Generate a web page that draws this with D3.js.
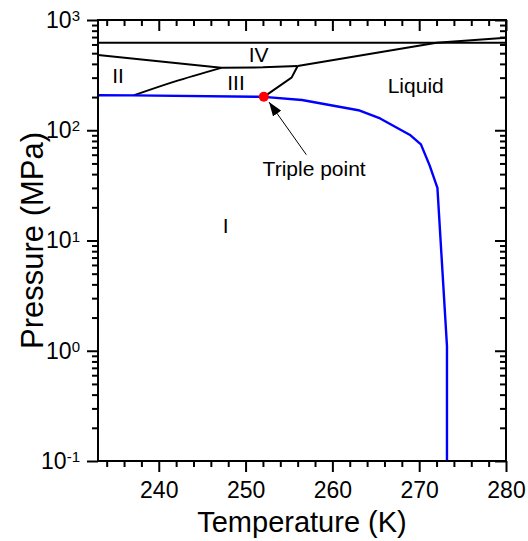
<!DOCTYPE html>
<html>
<head>
<meta charset="utf-8">
<script src="https://cdn.jsdelivr.net/npm/d3@7"></script>
<style>
  body { margin: 0; background: #fff; }
  svg { font-family: "Liberation Sans", Arial, sans-serif; }
</style>
</head>
<body>
<div id="chart"></div>
<script>
// Phase diagram of water (low temperature region), log pressure axis

var tempTicks = [240, 250, 260, 270, 280];
var pressTicks = [0.1, 1, 10, 100, 1000];
var pressExp = ["-1", "0", "1", "2", "3"];

// ice Ih melting line (blue)
var meltIhT = [233, 237.1, 252.1, 256.5, 263, 265.5, 269, 270.2, 271.2, 272.1, 273.2, 273.2];
var meltIhP = [208, 207, 201, 188, 152, 128, 90, 74.5, 48, 30, 1.1, 0.1];

// other phase boundaries (black)
var flatT = [233, 280];
var flatP = [622, 622];
var liqT = [256, 272, 280];
var liqP = [382, 622, 690];
var upperT = [233, 247.2, 252, 256];
var upperP = [481, 368, 372, 382];
var twoThreeT = [237.1, 241.8, 247.2];
var twoThreeP = [207, 276, 368];
var threeLiqT = [252.1, 255.3, 256];
var threeLiqP = [201, 300, 382];

var triplePoint = [252.1, 201];
var arrowFrom = [257, 60];
var arrowTo = [252.7, 180];

var regionNames = ["IV", "II", "III", "Liquid", "I", "Triple point"];
var regionT = [251.5, 235.3, 248.9, 269.6, 247.7, 257.9];
var regionP = [416, 268, 232, 218, 11.7, 38.4];

var margin = {top: 20, right: 22, bottom: 80, left: 98},
    width = 528 - margin.left - margin.right,
    height = 541 - margin.top - margin.bottom;

function pairs(ts, ps) {
  return ts.map(function(t, i) { return [t, ps[i]]; });
}

var svg = d3.select("#chart").append("svg")
    .attr("width", 528)
    .attr("height", 541);

var g = svg.append("g")
    .attr("transform", "translate(" + margin.left + "," + margin.top + ")");

var x = d3.scaleLinear().domain([233, 280]).range([0, width]);
var y = d3.scaleLog().domain([0.1, 1000]).range([height, 0]);

var line = d3.line()
    .x(function(d) { return x(d[0]); })
    .y(function(d) { return y(d[1]); });

var xMinor = d3.range(234, 281, 2).filter(function(v) { return v % 10 !== 0; });
var yMinor = [];
[0.1, 1, 10, 100].forEach(function(dec) {
  for (var k = 2; k <= 9; k++) yMinor.push(dec * k);
});

g.append("defs").append("clipPath")
    .attr("id", "clip")
  .append("rect")
    .attr("width", width)
    .attr("height", height);

// curves
var curves = g.append("g").attr("clip-path", "url(#clip)");

[[flatT, flatP], [liqT, liqP], [upperT, upperP], [threeLiqT, threeLiqP]]
  .forEach(function(c) {
    curves.append("path")
        .datum(pairs(c[0], c[1]))
        .attr("d", line)
        .style("fill", "none")
        .style("stroke", "#000")
        .style("stroke-width", 2);
  });

curves.append("path")
    .datum(pairs(twoThreeT, twoThreeP))
    .attr("d", line.curve(d3.curveCatmullRom))
    .style("fill", "none")
    .style("stroke", "#000")
    .style("stroke-width", 2);
line.curve(d3.curveLinear);

curves.append("path")
    .datum(pairs(meltIhT, meltIhP))
    .attr("d", line)
    .style("fill", "none")
    .style("stroke", "#0000ff")
    .style("stroke-width", 2.4)
    .style("stroke-linejoin", "round");

// arrow to triple point
g.append("defs").append("marker")
    .attr("id", "head")
    .attr("viewBox", "0 0 14 10")
    .attr("refX", 14)
    .attr("refY", 5)
    .attr("markerWidth", 14)
    .attr("markerHeight", 10)
    .attr("markerUnits", "userSpaceOnUse")
    .attr("orient", "auto")
  .append("path")
    .attr("d", "M0,0L14,5L0,10Z")
    .style("fill", "#000");

g.append("line")
    .attr("x1", x(arrowFrom[0]))
    .attr("y1", y(arrowFrom[1]))
    .attr("x2", x(arrowTo[0]))
    .attr("y2", y(arrowTo[1]))
    .style("stroke", "#000")
    .style("stroke-width", 1)
    .attr("marker-end", "url(#head)");

g.append("circle")
    .attr("cx", x(triplePoint[0]))
    .attr("cy", y(triplePoint[1]))
    .attr("r", 5)
    .style("fill", "#ff0000");

// region labels
g.selectAll(".region")
    .data(regionNames)
  .enter().append("text")
    .attr("class", "region")
    .attr("x", function(d, i) { return x(regionT[i]); })
    .attr("y", function(d, i) { return y(regionP[i]); })
    .attr("text-anchor", "middle")
    .style("font-size", "21px")
    .text(function(d) { return d; });

// axes
function styleAxis(sel) {
  sel.selectAll(".domain").remove();
  sel.selectAll("line").style("stroke", "#000").style("stroke-width", 2);
  sel.selectAll("text").style("font-family", "Liberation Sans, Arial, sans-serif");
}

g.append("g")
    .attr("transform", "translate(0," + height + ")")
    .call(d3.axisBottom(x).tickValues(tempTicks).tickSize(11).tickPadding(10).tickFormat(d3.format("d")))
    .call(styleAxis)
    .selectAll("text")
    .style("font-size", "23px")
    .style("fill", "#000");

g.append("g")
    .attr("transform", "translate(0," + height + ")")
    .call(d3.axisBottom(x).tickValues(xMinor).tickSize(6).tickFormat(""))
    .call(styleAxis);

g.append("g")
    .call(d3.axisTop(x).tickValues(tempTicks).tickSize(-11).tickFormat(""))
    .call(styleAxis);

g.append("g")
    .call(d3.axisTop(x).tickValues(xMinor).tickSize(-6).tickFormat(""))
    .call(styleAxis);

var yAxis = g.append("g")
    .call(d3.axisLeft(y).tickValues(pressTicks).tickSize(11).tickPadding(7).tickFormat(""))
    .call(styleAxis);

yAxis.selectAll(".tick text")
    .style("font-size", "23px")
    .style("fill", "#000")
    .each(function(d, i) {
      var t = d3.select(this);
      t.text("10");
      t.append("tspan")
          .attr("dy", "-0.45em")
          .style("font-size", "15px")
          .text(pressExp[i]);
    });

g.append("g")
    .call(d3.axisLeft(y).tickValues(yMinor).tickSize(6).tickFormat(""))
    .call(styleAxis);

g.append("g")
    .attr("transform", "translate(" + width + ",0)")
    .call(d3.axisRight(y).tickValues(pressTicks).tickSize(-11).tickFormat(""))
    .call(styleAxis);

g.append("g")
    .attr("transform", "translate(" + width + ",0)")
    .call(d3.axisRight(y).tickValues(yMinor).tickSize(-6).tickFormat(""))
    .call(styleAxis);

// frame
g.append("rect")
    .attr("width", width)
    .attr("height", height)
    .style("fill", "none")
    .style("stroke", "#000")
    .style("stroke-width", 2);

// axis titles
svg.append("text")
    .attr("x", margin.left + width / 2)
    .attr("y", 532)
    .attr("text-anchor", "middle")
    .style("font-size", "29px")
    .text("Temperature (K)");

svg.append("text")
    .attr("transform", "translate(43," + (margin.top + height / 2) + ") rotate(-90)")
    .attr("text-anchor", "middle")
    .style("font-size", "31px")
    .text("Pressure (MPa)");
</script>
</body>
</html>
